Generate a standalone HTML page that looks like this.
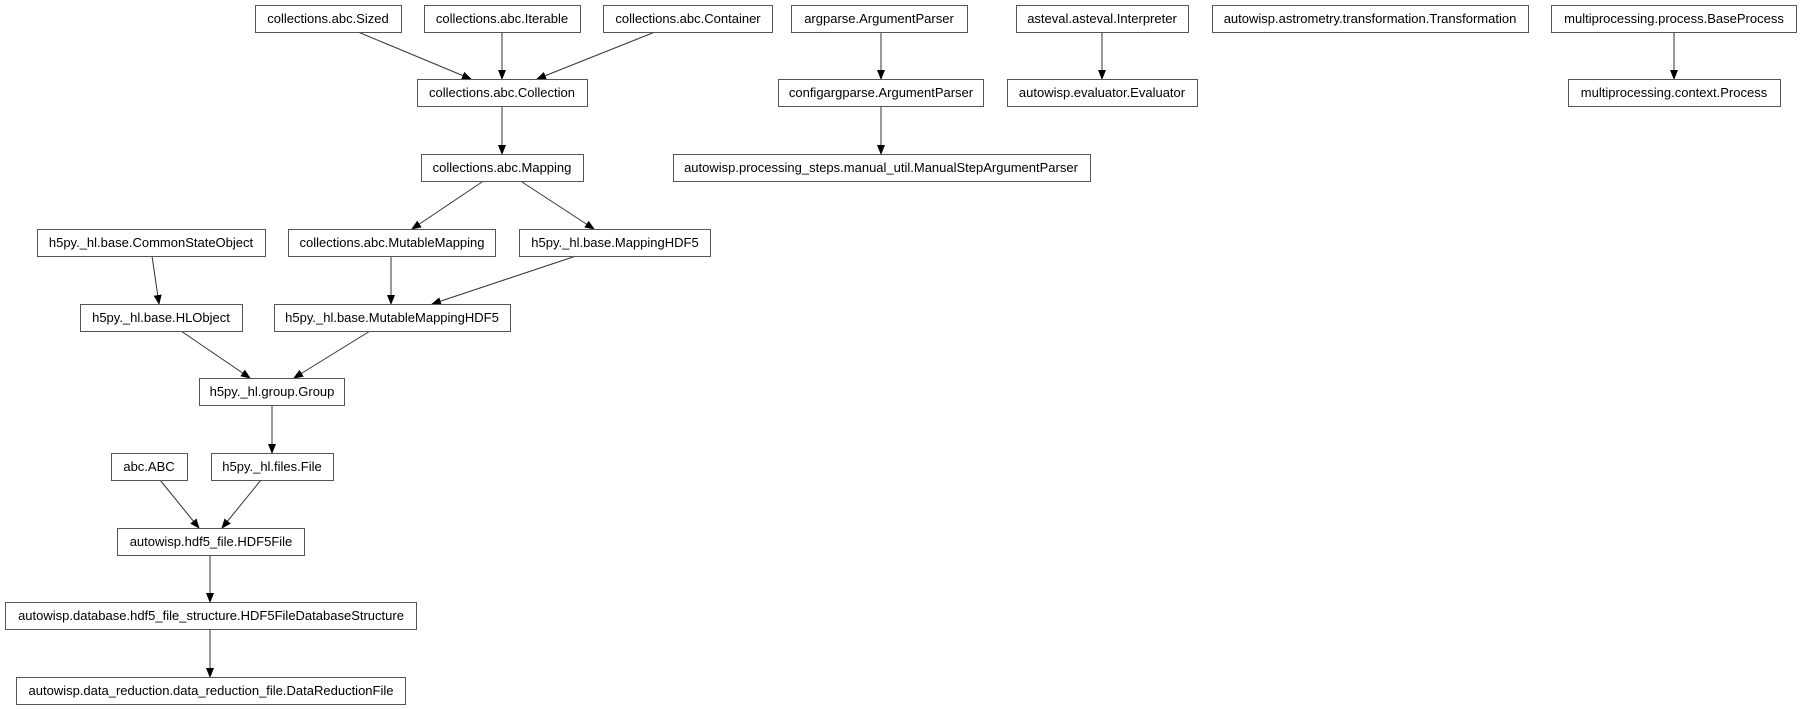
<!DOCTYPE html>
<html><head><meta charset="utf-8"><style>
html,body{margin:0;padding:0;background:#fff;}
svg{display:block;}
text{font-family:"Liberation Sans",Arial,sans-serif;font-size:13px;fill:#000;text-anchor:middle;}
rect{fill:#fff;stroke:#555;stroke-width:1;}
line{stroke:#333;stroke-width:1;}
</style></head><body>
<svg width="1802" height="709" viewBox="0 0 1802 709" xmlns="http://www.w3.org/2000/svg">
<defs><marker id="a" markerWidth="10" markerHeight="8" refX="9" refY="4" orient="auto" markerUnits="userSpaceOnUse"><path d="M0,0 L10,4 L0,8 z" fill="#000"/></marker></defs>
<g>
<line x1="358" y1="32" x2="471" y2="79" marker-end="url(#a)"/>
<line x1="502" y1="32" x2="502" y2="79" marker-end="url(#a)"/>
<line x1="655" y1="32" x2="537" y2="79" marker-end="url(#a)"/>
<line x1="502" y1="107" x2="502" y2="154" marker-end="url(#a)"/>
<line x1="482" y1="182" x2="412" y2="229" marker-end="url(#a)"/>
<line x1="522" y1="182" x2="594" y2="229" marker-end="url(#a)"/>
<line x1="152" y1="256" x2="159" y2="304" marker-end="url(#a)"/>
<line x1="391" y1="256" x2="391" y2="304" marker-end="url(#a)"/>
<line x1="576" y1="256" x2="432" y2="304" marker-end="url(#a)"/>
<line x1="181" y1="331" x2="250" y2="378" marker-end="url(#a)"/>
<line x1="370" y1="331" x2="294" y2="378" marker-end="url(#a)"/>
<line x1="272" y1="405" x2="272" y2="453" marker-end="url(#a)"/>
<line x1="160" y1="480" x2="199" y2="528" marker-end="url(#a)"/>
<line x1="261" y1="480" x2="222" y2="528" marker-end="url(#a)"/>
<line x1="210" y1="555" x2="210" y2="602" marker-end="url(#a)"/>
<line x1="210" y1="629" x2="210" y2="677" marker-end="url(#a)"/>
<line x1="881" y1="32" x2="881" y2="79" marker-end="url(#a)"/>
<line x1="881" y1="107" x2="881" y2="154" marker-end="url(#a)"/>
<line x1="1102" y1="32" x2="1102" y2="79" marker-end="url(#a)"/>
<line x1="1674" y1="32" x2="1674" y2="79" marker-end="url(#a)"/>
</g>
<g>
<rect x="255.5" y="5.5" width="146" height="27"/><text x="328" y="23">collections.abc.Sized</text>
<rect x="424.5" y="5.5" width="156" height="27"/><text x="502" y="23">collections.abc.Iterable</text>
<rect x="603.5" y="5.5" width="169" height="27"/><text x="688" y="23">collections.abc.Container</text>
<rect x="791.5" y="5.5" width="176" height="27"/><text x="879" y="23">argparse.ArgumentParser</text>
<rect x="1016.5" y="5.5" width="172" height="27"/><text x="1102" y="23">asteval.asteval.Interpreter</text>
<rect x="1212.5" y="5.5" width="316" height="27"/><text x="1370" y="23">autowisp.astrometry.transformation.Transformation</text>
<rect x="1551.5" y="5.5" width="245" height="27"/><text x="1674" y="23">multiprocessing.process.BaseProcess</text>

<rect x="417.5" y="79.5" width="170" height="27"/><text x="502" y="97">collections.abc.Collection</text>
<rect x="778.5" y="79.5" width="205" height="27"/><text x="881" y="97">configargparse.ArgumentParser</text>
<rect x="1007.5" y="79.5" width="190" height="27"/><text x="1102" y="97">autowisp.evaluator.Evaluator</text>
<rect x="1568.5" y="79.5" width="212" height="27"/><text x="1674" y="97">multiprocessing.context.Process</text>

<rect x="421.5" y="154.5" width="162" height="27"/><text x="502" y="172">collections.abc.Mapping</text>
<rect x="673.5" y="154.5" width="417" height="27"/><text x="881" y="172">autowisp.processing_steps.manual_util.ManualStepArgumentParser</text>

<rect x="37.5" y="229.5" width="228" height="27"/><text x="151" y="247">h5py._hl.base.CommonStateObject</text>
<rect x="288.5" y="229.5" width="207" height="27"/><text x="392" y="247">collections.abc.MutableMapping</text>
<rect x="519.5" y="229.5" width="191" height="27"/><text x="615" y="247">h5py._hl.base.MappingHDF5</text>

<rect x="80.5" y="304.5" width="162" height="27"/><text x="161" y="322">h5py._hl.base.HLObject</text>
<rect x="274.5" y="304.5" width="236" height="27"/><text x="392" y="322">h5py._hl.base.MutableMappingHDF5</text>

<rect x="199.5" y="378.5" width="145" height="27"/><text x="272" y="396">h5py._hl.group.Group</text>

<rect x="111.5" y="453.5" width="76" height="27"/><text x="149" y="471">abc.ABC</text>
<rect x="211.5" y="453.5" width="122" height="27"/><text x="272" y="471">h5py._hl.files.File</text>

<rect x="117.5" y="528.5" width="187" height="27"/><text x="211" y="546">autowisp.hdf5_file.HDF5File</text>

<rect x="5.5" y="602.5" width="411" height="27"/><text x="211" y="620">autowisp.database.hdf5_file_structure.HDF5FileDatabaseStructure</text>

<rect x="16.5" y="677.5" width="389" height="27"/><text x="211" y="695">autowisp.data_reduction.data_reduction_file.DataReductionFile</text>
</g>
</svg>
</body></html>
